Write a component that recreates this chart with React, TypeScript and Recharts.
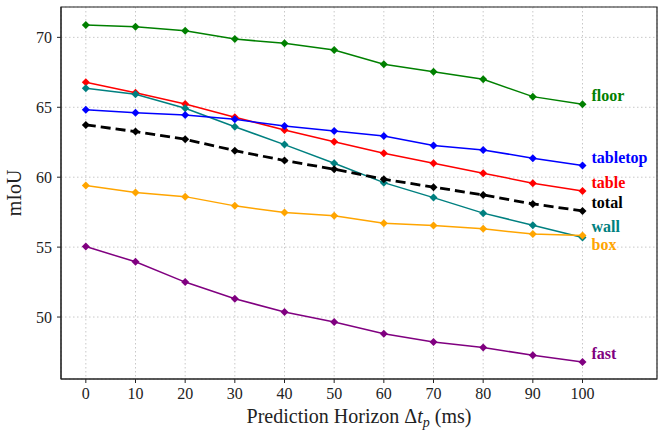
import React from "react";
import {
  LineChart, Line, XAxis, YAxis, CartesianGrid, LabelList, ReferenceArea,
} from "recharts";

const horizons = [0, 10, 20, 30, 40, 50, 60, 70, 80, 90, 100];
const floor    = [70.88, 70.76, 70.47, 69.88, 69.57, 69.09, 68.07, 67.54, 67.0, 65.76, 65.21];
const table    = [66.79, 66.04, 65.24, 64.29, 63.38, 62.54, 61.71, 61.0, 60.29, 59.57, 59.02];
const wall     = [66.36, 65.93, 64.93, 63.61, 62.33, 61.0, 59.61, 58.54, 57.43, 56.57, 55.69];
const tabletop = [64.83, 64.61, 64.45, 64.14, 63.66, 63.31, 62.95, 62.26, 61.95, 61.36, 60.83];
const total    = [63.74, 63.26, 62.71, 61.9, 61.19, 60.57, 59.86, 59.29, 58.73, 58.09, 57.59];
const box      = [59.4, 58.9, 58.61, 57.95, 57.47, 57.24, 56.71, 56.54, 56.31, 55.93, 55.83];
const fast     = [55.04, 53.95, 52.5, 51.31, 50.36, 49.64, 48.81, 48.21, 47.83, 47.26, 46.79];

const xTicks = horizons;
const yTicks = [50, 55, 60, 65, 70];
const xDomain = [-5, 115];
const yDomain = [45.57, 72.17];

const FONT = "Liberation Serif";

const series = [
  { key: "floor",    values: floor,    color: "#008000", dy: -3 },
  { key: "table",    values: table,    color: "#ff0000", dy: -3 },
  { key: "wall",     values: wall,     color: "#008080", dy: -5 },
  { key: "tabletop", values: tabletop, color: "#0000ff", dy: -3 },
  { key: "box",      values: box,      color: "#ffa500", dy: 14 },
  { key: "fast",     values: fast,     color: "#800080", dy: -3 },
  { key: "total",    values: total,    color: "#000000", dy: -3, dashed: true },
];

const data = horizons.map((h, i) => {
  const row: Record<string, number> = { h };
  series.forEach((s) => { row[s.key] = s.values[i]; });
  return row;
});

const last = horizons.length - 1;

function diamond(color: string) {
  return (p: any) => {
    const { cx, cy, index } = p;
    const r = 4;
    return (
      <polygon
        key={`d-${index}`}
        points={`${cx},${cy - r} ${cx + r},${cy} ${cx},${cy + r} ${cx - r},${cy}`}
        fill={color}
      />
    );
  };
}

function endLabel(name: string, color: string, dy: number) {
  return (p: any) => {
    if (p.index !== last) return null;
    return (
      <text
        x={Number(p.x) + 9} y={Number(p.y) + dy}
        fill={color} fontFamily={FONT} fontWeight="bold" fontSize={16}
      >
        {name}
      </text>
    );
  };
}

const xTitle = (p: any) => {
  const vb = p.viewBox || {};
  const cx = vb.x + vb.width / 2;
  return (
    <text x={cx} y={423} textAnchor="middle" fontFamily={FONT} fontSize={20} fill="#222">
      Prediction Horizon Δ<tspan fontStyle="italic">t</tspan>
      <tspan fontStyle="italic" fontSize={14} dy={4}>p</tspan>
      <tspan dy={-4}> (ms)</tspan>
    </text>
  );
};

const yTitle = (p: any) => {
  const vb = p.viewBox || {};
  const cy = vb.y + vb.height / 2;
  return (
    <text
      x={21} y={cy} textAnchor="middle" fontFamily={FONT} fontSize={20} fill="#222"
      transform={`rotate(-90, 21, ${cy})`}
    >
      mIoU
    </text>
  );
};

export default function App() {
  const tick = { fontSize: 16, fill: "#222", fontFamily: FONT };
  return (
    <div style={{ position: "fixed", left: 0, top: 0, background: "#fff" }}>
      <LineChart width={663} height={433} data={data} margin={{ top: 7, right: 6, left: 0, bottom: 0 }}>
        <CartesianGrid stroke="#c8c8c8" strokeDasharray="1.5 2.5" />
        <XAxis
          dataKey="h" type="number" domain={xDomain} ticks={xTicks} allowDataOverflow
          height={54} tick={tick} tickSize={4} tickMargin={5}
          stroke="#222" tickLine={{ stroke: "#222" }}
          label={{ content: xTitle }}
        />
        <YAxis
          type="number" domain={yDomain} ticks={yTicks} allowDataOverflow
          width={61} tick={tick} tickSize={4} tickMargin={5}
          stroke="#222" tickLine={{ stroke: "#222" }}
          label={{ content: yTitle }}
        />
        <ReferenceArea
          x1={xDomain[0]} x2={xDomain[1]} y1={yDomain[0]} y2={yDomain[1]}
          fill="none" fillOpacity={0} stroke="#222" strokeWidth={1.2}
        />
        {series.map((s) => (
          <Line
            key={s.key} dataKey={s.key} type="linear"
            stroke={s.color} strokeWidth={s.dashed ? 2.8 : 1.5}
            strokeDasharray={s.dashed ? "10 5" : undefined}
            dot={diamond(s.color)} activeDot={false}
            isAnimationActive={false}
          >
            <LabelList dataKey={s.key} content={endLabel(s.key, s.color, s.dy)} />
          </Line>
        ))}
      </LineChart>
    </div>
  );
}
